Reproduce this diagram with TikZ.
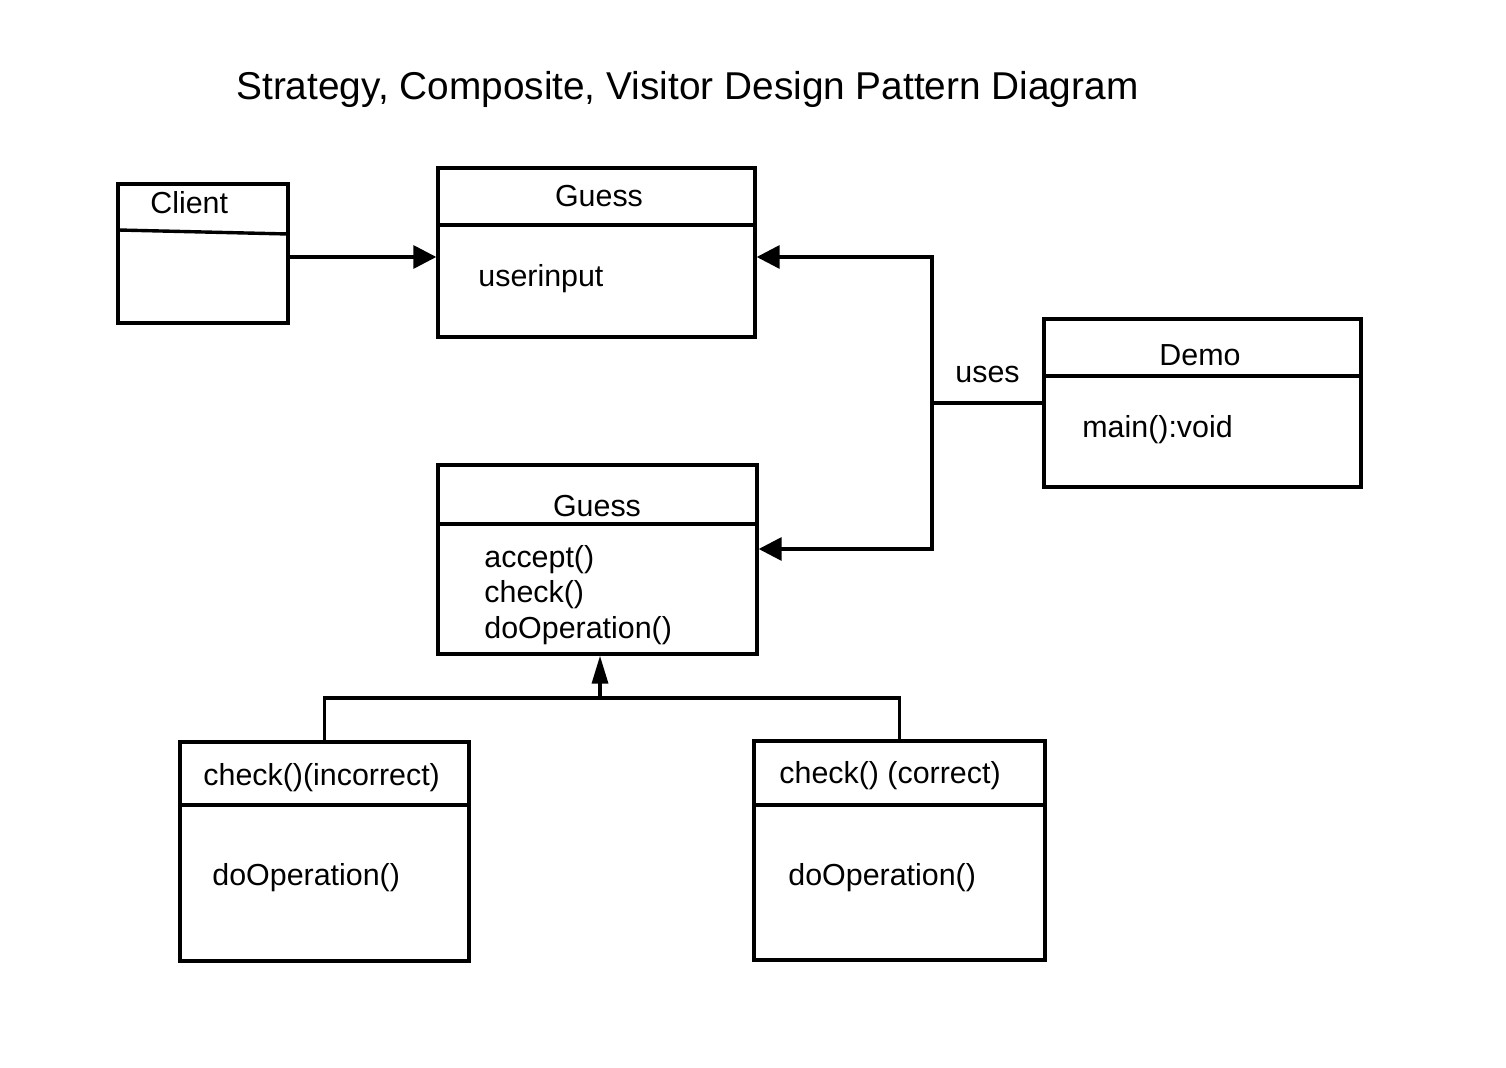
\documentclass[tikz,border=0pt]{standalone}
\usepackage{fontspec}
\setmainfont{Liberation Sans}
\usetikzlibrary{arrows.meta,fit}
\tikzset{
  umlbox/.style={draw, line width=1.7pt, inner sep=0pt, rectangle},
  divider/.style={line width=1.7pt},
  conn/.style={line width=1.7pt},
  arr/.style={conn, -{Triangle[length=11.5pt,width=11.5pt]}},
  inh/.style={conn, -{Triangle[length=14pt,width=8pt]}},
  txt/.style={inner sep=0pt, anchor=base west, font=\fontsize{15.2pt}{18pt}\selectfont},
  ctxt/.style={inner sep=0pt, anchor=base, font=\fontsize{15.2pt}{18pt}\selectfont},
}
\begin{document}
\begin{tikzpicture}[x=0.5pt,y=-0.5pt]
\useasboundingbox (0,0) rectangle (1506,1068);
% title
\node[inner sep=0pt, anchor=base west, font=\fontsize{19.4pt}{23pt}\selectfont] (title) at (236,100) {Strategy, Composite, Visitor Design Pattern Diagram};
% Client
\node[umlbox, fit={(118,184) (288,323)}] (client) {};
\draw[divider] (118,230) -- (288,234);
\node[txt] (clientname) at (150,214) {Client};
% Guess (top)
\node[umlbox, fit={(438,168) (755,337)}] (guessa) {};
\draw[divider] (guessa.west |- 0,225) -- (guessa.east |- 0,225);
\node[ctxt] (guessaname) at (599,207) {Guess};
\node[txt] (guessaattr) at (478,287) {userinput};
% Demo
\node[umlbox, fit={(1044,319) (1361,487)}] (demo) {};
\draw[divider] (demo.west |- 0,376) -- (demo.east |- 0,376);
\node[ctxt] (demoname) at (1200,366) {Demo};
\node[txt] (demoop) at (1082,438) {main():void};
% Guess (middle)
\node[umlbox, fit={(438,465) (757,654)}] (guessb) {};
\draw[divider] (guessb.west |- 0,524) -- (guessb.east |- 0,524);
\node[ctxt] (guessbname) at (597,517) {Guess};
\node[txt] (opa) at (484,568) {accept()};
\node[txt] (opb) at (484,603) {check()};
\node[txt] (opc) at (484,639) {doOperation()};
% check incorrect
\node[umlbox, fit={(180,742) (469,961)}] (inc) {};
\draw[divider] (inc.west |- 0,805) -- (inc.east |- 0,805);
\node[txt] (incname) at (203,786) {check()(incorrect)};
\node[txt] (incop) at (212,886) {doOperation()};
% check correct
\node[umlbox, fit={(754,741) (1045,960)}] (cor) {};
\draw[divider] (cor.west |- 0,805) -- (cor.east |- 0,805);
\node[txt] (corname) at (779,784) {check() (correct)};
\node[txt] (corop) at (788,886) {doOperation()};
% connectors
\coordinate (jtop) at (932,257);
\coordinate (jmid) at (932,403);
\coordinate (jbot) at (932,549);
\draw[arr] (client.east |- jtop) -- (guessa.west |- jtop);
\draw[conn] (demo.west) -- (jmid);
\draw[arr] (jmid) -- (jtop) -- (jtop -| guessa.east);
\draw[arr] (jmid) -- (jbot) -- (jbot -| guessb.east);
\node[txt] (uses) at (955,383) {uses};
\coordinate (hub) at (600,698);
\draw[conn] (inc.north) |- (hub);
\draw[conn] (cor.north) |- (hub);
\draw[inh] (hub) -- (hub |- guessb.south);
\end{tikzpicture}
\end{document}
